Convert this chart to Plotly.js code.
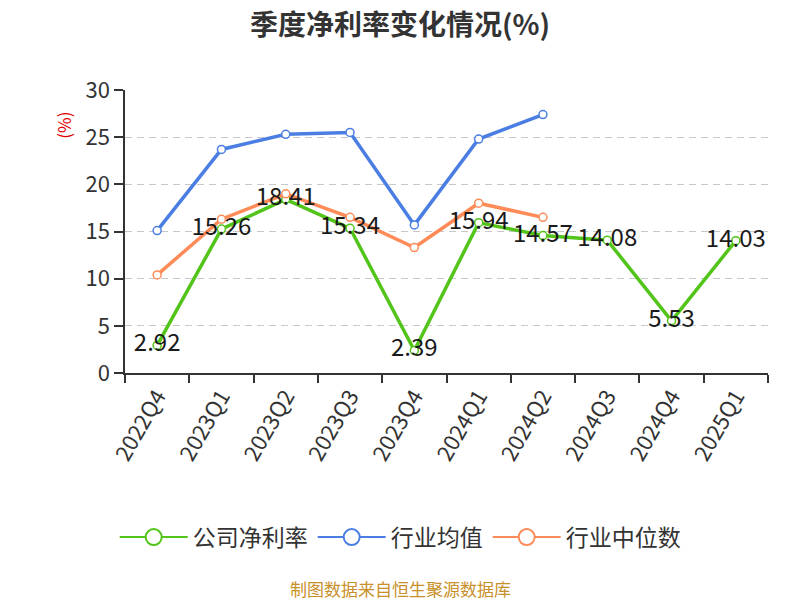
<!DOCTYPE html>
<html>
<head>
<meta charset="utf-8">
<script src="https://cdn.plot.ly/plotly-3.0.1.min.js"></script>
<style>body{margin:0;background:#fff}#chart{width:800px;height:600px}</style>
</head>
<body>
<div id="chart"></div>
<script>
var quarters = ['2022Q4','2023Q1','2023Q2','2023Q3','2023Q4','2024Q1','2024Q2','2024Q3','2024Q4','2025Q1'];
var company = [2.92, 15.26, 18.41, 15.34, 2.39, 15.94, 14.57, 14.08, 5.53, 14.03];
var industryAvg = [15.1, 23.7, 25.3, 25.5, 15.7, 24.8, 27.4];
var industryMedian = [10.4, 16.3, 19.0, 16.5, 13.3, 18.0, 16.5];
var names = ['公司净利率', '行业均值', '行业中位数'];

var green = '#52c41a', blue = '#4a7ee3', orange = '#ff8b58';

function series(name, vals, color) {
    return {
        x: quarters.slice(0, vals.length),
        y: vals,
        name: name,
        type: 'scatter',
        mode: 'lines+markers',
        line: {color: color, width: 3.5},
        marker: {symbol: 'circle', size: 8, color: '#fff', line: {color: color, width: 1.5}},
        showlegend: false
    };
}

// legend-only entries with the big open circles
function legendItem(name, color) {
    return {
        x: [null], y: [null], name: name, type: 'scatter', mode: 'lines+markers',
        line: {color: color, width: 2},
        marker: {symbol: 'circle', size: 16, color: '#fff', line: {color: color, width: 2}}
    };
}

var data = [
    series(names[0], company, green),
    series(names[1], industryAvg, blue),
    series(names[2], industryMedian, orange),
    {
        x: quarters, y: company, type: 'scatter', mode: 'text',
        text: company.map(function (v) { return v.toFixed(2); }),
        textposition: 'middle center',
        textfont: {size: 24, color: '#1a1a1a'},
        showlegend: false, hoverinfo: 'skip'
    },
    legendItem(names[0], green),
    legendItem(names[1], blue),
    legendItem(names[2], orange)
];

var layout = {
    width: 800, height: 600,
    margin: {l: 125, r: 32, t: 90, b: 227},
    paper_bgcolor: '#fff', plot_bgcolor: '#fff',
    font: {family: '"Noto Sans CJK SC", "Noto Sans", sans-serif', color: '#333'},
    title: {text: '<b>季度净利率变化情况(%)</b>', x: 0.5, xanchor: 'center', y: 0.958, yanchor: 'middle',
            font: {size: 28, color: '#333'}},
    xaxis: {
        type: 'category', range: [-0.5, 9.5],
        tickson: 'boundaries', ticks: 'outside', ticklen: 8, tickcolor: '#333', tickwidth: 1.5,
        showline: true, linecolor: '#333', linewidth: 1.5, showgrid: false,
        tickangle: -60, tickfont: {size: 22, color: '#333'}
    },
    yaxis: {
        range: [0, 30], dtick: 5, ticks: 'outside', ticklen: 9, tickcolor: '#333', tickwidth: 1.5,
        showline: true, linecolor: '#333', linewidth: 1.5,
        gridcolor: '#c8c8c8', griddash: '7px,5px', zeroline: false,
        tickfont: {size: 22, color: '#333'}
    },
    legend: {
        orientation: 'h', x: 0.428, xanchor: 'center', y: -0.58, yanchor: 'middle',
        font: {size: 23, color: '#333'}, itemwidth: 68
    },
    annotations: [
        {text: '(%)', xref: 'paper', yref: 'paper', x: -0.096, xanchor: 'center', y: 0.875, yanchor: 'middle',
         showarrow: false, textangle: -90, font: {size: 17, color: '#e00000'}},
        {text: '制图数据来自恒生聚源数据库', xref: 'paper', yref: 'paper', x: 0.428, y: -0.76,
         yanchor: 'middle', showarrow: false, font: {size: 17, color: '#c8902a'}}
    ]
};

Plotly.newPlot('chart', data, layout, {displayModeBar: false});
</script>
</body>
</html>
